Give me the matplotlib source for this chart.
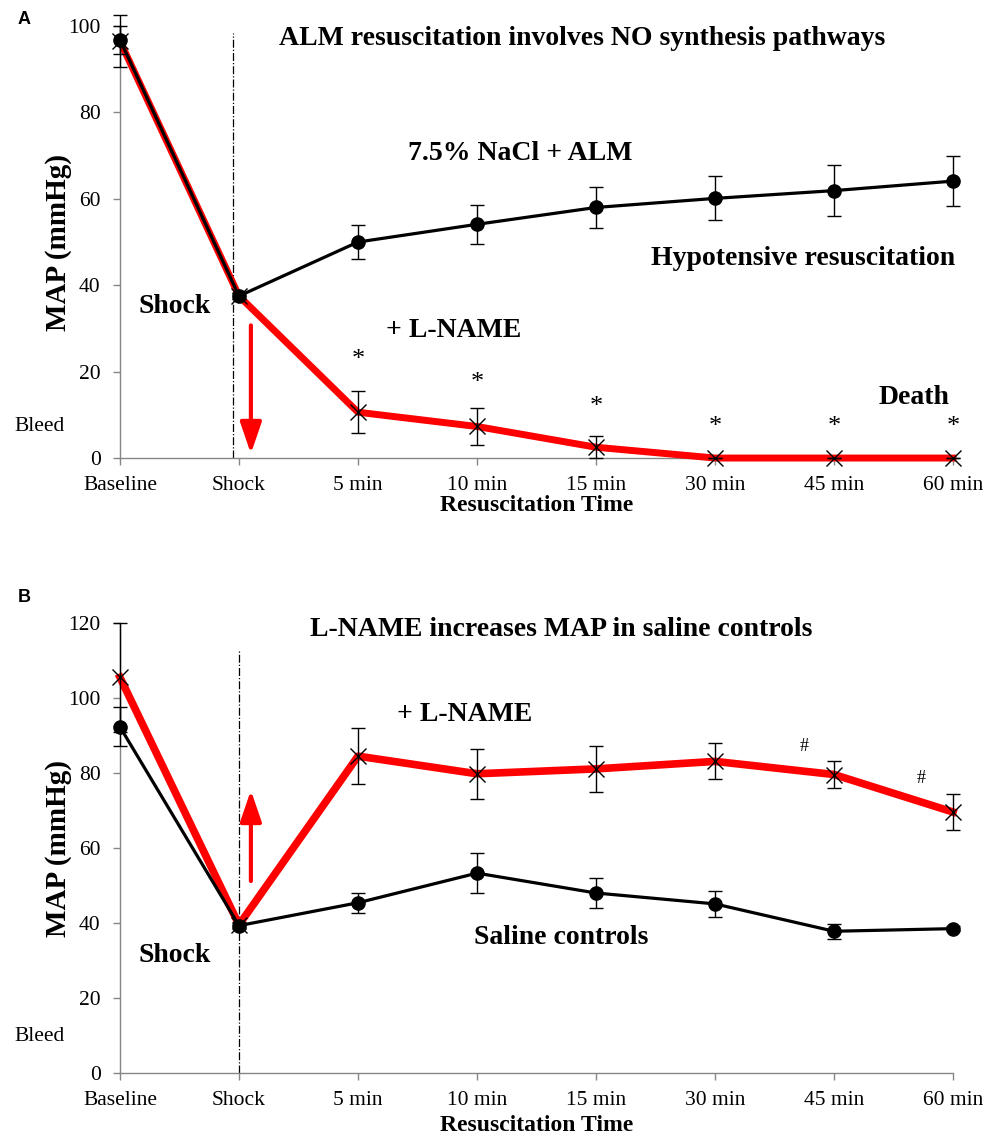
import matplotlib
matplotlib.use("Agg")
import matplotlib.pyplot as plt

plt.rcParams["font.family"] = ["Liberation Serif", "DejaVu Serif"]

# Data
categories = ["Baseline", "Shock", "5 min", "10 min", "15 min", "30 min", "45 min", "60 min"]
x = list(range(len(categories)))

# Panel A
alm_mean = [96.8, 37.5, 50.0, 54.1, 58.0, 60.1, 61.9, 64.1]
alm_err = [3.3, 0.8, 3.9, 4.5, 4.8, 5.1, 5.9, 5.8]
alm_lname_mean = [96.5, 37.5, 10.6, 7.3, 2.5, 0, 0, 0]
alm_lname_err = [6.0, 0.8, 4.9, 4.2, 2.5, 0, 0, 0]
star_x = [2, 3, 4, 5, 6, 7]
star_y = [22.6, 17.4, 11.8, 7.2, 7.2, 7.2]

# Panel B
saline_mean = [92.3, 39.3, 45.4, 53.3, 48.0, 45.1, 37.8, 38.5]
saline_err = [5.2, 0.8, 2.6, 5.3, 4.1, 3.5, 2.0, 0.6]
saline_lname_mean = [105.5, 39.5, 84.5, 79.8, 81.1, 83.1, 79.6, 69.6]
saline_lname_err = [14.5, 0.8, 7.5, 6.6, 6.1, 4.8, 3.5, 4.9]
hash_x = [5.75, 6.73]
hash_y = [87.2, 78.5]

RED = "#FF0000"
GREY = "#868686"

fig = plt.figure(figsize=(9.86, 11.36), dpi=100)
axA = fig.add_axes([0.1217, 0.5968, 0.8448, 0.3803])
axB = fig.add_axes([0.1217, 0.05546, 0.8448, 0.3961])


def style_axes(ax, ymax, xlab_y):
    ax.set_xlim(0, 7)
    ax.set_ylim(0, ymax)
    ax.set_yticks(range(0, ymax + 1, 20))
    ax.set_xticks(x)
    ax.set_xticklabels(categories)
    for s in ["top", "right"]:
        ax.spines[s].set_visible(False)
    for s in ["left", "bottom"]:
        ax.spines[s].set_color(GREY)
        ax.spines[s].set_linewidth(1.0)
    ax.tick_params(axis="both", colors=GREY, length=5, width=1, labelsize=15.5,
                   labelcolor="black")
    ax.tick_params(axis="y", pad=9)
    ax.tick_params(axis="x", pad=8)
    ax.set_xlabel("Resuscitation Time", fontsize=17, fontweight="bold", va="center")
    ax.set_ylabel("MAP (mmHg)", fontsize=21, fontweight="bold", va="center")
    ax.yaxis.set_label_coords(-0.0744, 0.5)
    ax.xaxis.set_label_coords(0.5, xlab_y)


def draw_series(ax, y, err, color, lw, marker, ms, mew, z):
    ax.errorbar(x, y, yerr=err, fmt="none", ecolor="black", elinewidth=1,
                capsize=5, capthick=1, zorder=z + 1, clip_on=False)
    ax.plot(x, y, color=color, lw=lw, marker=marker, markersize=ms,
            markerfacecolor="black", markeredgecolor="black",
            markeredgewidth=mew, zorder=z, clip_on=False)


def red_arrow(ax, xa, y0, y1):
    ax.annotate("", xy=(xa, y1), xytext=(xa, y0),
                arrowprops=dict(arrowstyle="-|>,head_length=1.9,head_width=0.65",
                                color=RED, lw=3, shrinkA=0, shrinkB=0,
                                mutation_scale=10))


bold = dict(fontsize=20, fontweight="bold", ha="center", va="center")

# ---------- Panel A ----------
style_axes(axA, 100, -0.11)
axA.plot([0.95, 0.95], [0, 98.3], color="black", lw=0.9, ls="-.", zorder=2)
draw_series(axA, alm_lname_mean, alm_lname_err, RED, 5, "x", 11, 1.0, 3)
draw_series(axA, alm_mean, alm_err, "black", 2.3, "o", 9.5, 1.0, 5)
red_arrow(axA, 1.1, 30.7, 1.0)
for sx, sy in zip(star_x, star_y):
    axA.text(sx, sy, "*", fontsize=19, ha="center", va="center")
axA.text(3.88, 97.1, "ALM resuscitation involves NO synthesis pathways", **bold)
axA.text(3.36, 70.5, "7.5% NaCl + ALM", **bold)
axA.text(5.74, 46.2, "Hypotensive resuscitation", **bold)
axA.text(0.46, 35.0, "Shock", **bold)
axA.text(2.80, 29.6, "+ L-NAME", **bold)
axA.text(6.67, 14.1, "Death", **bold)
axA.text(-0.096, 7.3, "Bleed", fontsize=15.5, ha="center", va="center",
         transform=axA.get_yaxis_transform())

# ---------- Panel B ----------
style_axes(axB, 120, -0.116)
axB.plot([1.0, 1.0], [0, 112.9], color="black", lw=0.9, ls="-.", zorder=2)
draw_series(axB, saline_lname_mean, saline_lname_err, RED, 5.5, "x", 11, 1.0, 3)
draw_series(axB, saline_mean, saline_err, "black", 2.3, "o", 9.5, 1.0, 5)
red_arrow(axB, 1.1, 51.2, 75.4)
for hx, hy in zip(hash_x, hash_y):
    axB.text(hx, hy, "#", fontsize=13, ha="center", va="center")
axB.text(3.71, 118.3, "L-NAME increases MAP in saline controls", **bold)
axB.text(2.90, 95.6, "+ L-NAME", **bold)
axB.text(0.46, 31.4, "Shock", **bold)
axB.text(3.71, 36.1, "Saline controls", **bold)
axB.text(-0.096, 9.7, "Bleed", fontsize=15.5, ha="center", va="center",
         transform=axB.get_yaxis_transform())

# Panel letters
fig.text(24 / 986, 1 - 20 / 1136, "A", fontsize=13, fontweight="bold",
         family="Liberation Sans", ha="center", va="center")
fig.text(24 / 986, 1 - 597 / 1136, "B", fontsize=13, fontweight="bold",
         family="Liberation Sans", ha="center", va="center")

fig.savefig("out.png", dpi=100)
